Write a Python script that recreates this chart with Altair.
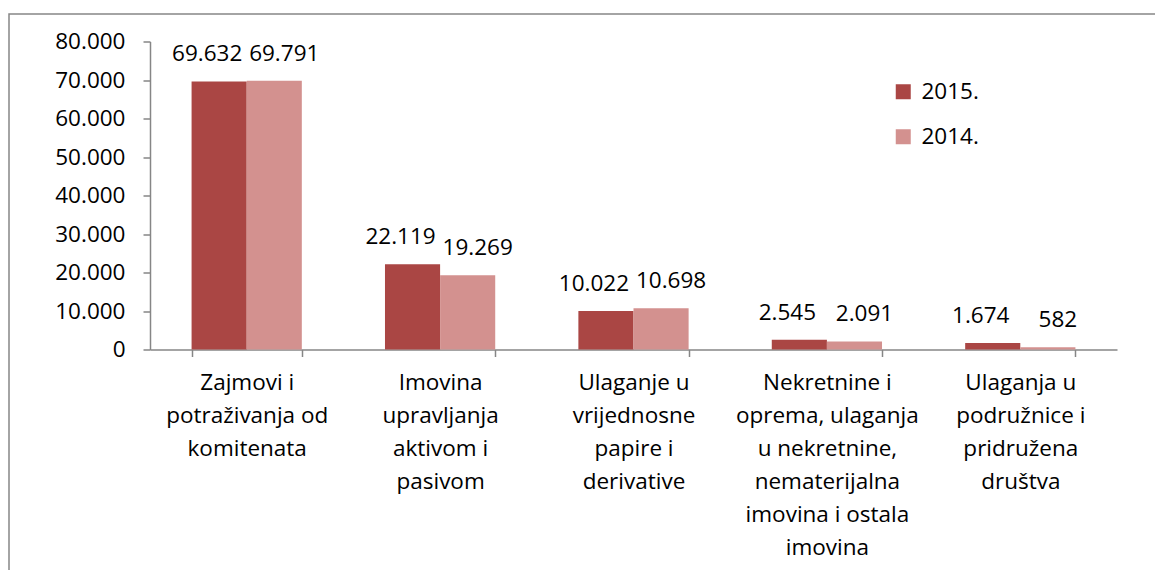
import altair as alt
import pandas as pd

categories = [
    "Zajmovi i\npotraživanja od\nkomitenata",
    "Imovina\nupravljanja\naktivom i\npasivom",
    "Ulaganje u\nvrijednosne\npapire i\nderivative",
    "Nekretnine i\noprema, ulaganja\nu nekretnine,\nnematerijalna\nimovina i ostala\nimovina",
    "Ulaganja u\npodružnice i\npridružena\ndruštva",
]
series = ["2015.", "2014."]
values_2015 = [69632, 22119, 10022, 2545, 1674]
values_2014 = [69791, 19269, 10698, 2091, 582]
y_ticks = [0, 10000, 20000, 30000, 40000, 50000, 60000, 70000, 80000]
colors = ["#AA4644", "#D3918F"]

rows = []
for c, v in zip(categories, values_2015):
    rows.append({"cat": c, "series": "2015.", "value": v})
for c, v in zip(categories, values_2014):
    rows.append({"cat": c, "series": "2014.", "value": v})
df = pd.DataFrame(rows)
df["label"] = df["value"].map(lambda v: f"{v:,}".replace(",", "."))

FONT = "Open Sans"
FS = 22.5

x_enc = alt.X(
    "cat:N", sort=categories, title=None,
    scale=alt.Scale(paddingInner=0.43, paddingOuter=0.215),
    axis=alt.Axis(
        labelAngle=0, labelExpr="split(datum.label, '\\n')",
        labelFont=FONT, labelFontSize=FS, labelColor="#000000",
        labelLineHeight=33, labelPadding=15, labelBaseline="top",
        tickBand="extent", tickSize=7, tickColor="#868686",
        domainColor="#868686", domainWidth=1.5, tickWidth=1.5,
        labelLimit=300, labelOverlap=False,
    ),
)
y_enc = alt.Y(
    "value:Q", title=None,
    scale=alt.Scale(domain=[0, 80000], nice=False),
    axis=alt.Axis(
        values=y_ticks, tickCount=9, labelExpr="replace(format(datum.value, ','), ',', '.')",
        labelFont=FONT, labelFontSize=FS, labelColor="#000000",
        labelPadding=18, tickSize=7, tickColor="#868686",
        domainColor="#868686", domainWidth=1.5, tickWidth=1.5, grid=False,
        labelOverlap=False,
    ),
)
xoff = alt.XOffset("series:N", sort=series, scale=alt.Scale(paddingInner=0, paddingOuter=0))

bars = alt.Chart(df).mark_bar().encode(
    x=x_enc,
    xOffset=xoff,
    y=y_enc,
    color=alt.Color(
        "series:N", sort=series, title=None,
        scale=alt.Scale(domain=series, range=colors),
        legend=alt.Legend(
            orient="none", legendX=742, legendY=39,
            symbolType="square", symbolSize=225, symbolStrokeWidth=0,
            labelFont=FONT, labelFontSize=FS, labelColor="#000000",
            rowPadding=22, labelOffset=7,
        ),
    ),
)

def labels(s, dx):
    return alt.Chart(df).transform_filter(alt.datum.series == s).mark_text(
        font=FONT, fontSize=FS, color="#000000", baseline="middle", dy=-27, dx=dx
    ).encode(
        x=x_enc,
        xOffset=xoff,
        y=y_enc,
        text="label:N",
    )

border = alt.Chart(pd.DataFrame({"a": [0]})).mark_rect(
    fill=None, stroke="#868686", strokeWidth=1.5, clip=False
).encode(
    x=alt.value(-141), x2=alt.value(1010), y=alt.value(-27.5), y2=alt.value(560)
)

chart = alt.layer(border, bars, labels("2015.", -12), labels("2014.", 10)).properties(
    width=967, height=308,
    autosize=alt.AutoSizeParams(type="none"),
    padding={"left": 142, "top": 33.5, "right": 38, "bottom": 220},
).configure(background="#ffffff", view=alt.ViewConfig(stroke=None))

chart.save("out.html", embed_options={"renderer": "svg", "actions": False})
